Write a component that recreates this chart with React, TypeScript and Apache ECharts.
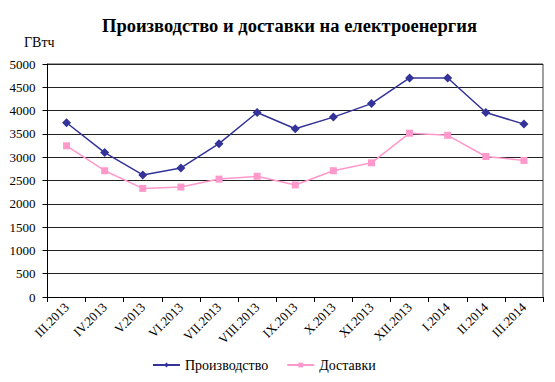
import React, { useEffect, useRef } from "react";
import * as echarts from "echarts";

const categories = [
  "III.2013", "IV.2013", "V.2013", "VI.2013", "VII.2013", "VIII.2013", "IX.2013",
  "X.2013", "XI.2013", "XII.2013", "I.2014", "II.2014", "III.2014",
];
const production = [3740, 3100, 2620, 2770, 3290, 3960, 3610, 3860, 4150, 4700, 4700, 3960, 3710];
const deliveries = [3245, 2710, 2330, 2360, 2530, 2590, 2405, 2710, 2880, 3515, 3470, 3015, 2930];
const yTicks = { min: 0, max: 5000, interval: 500 };

const SERIF = "'Liberation Serif', 'Times New Roman', serif";

export default function App() {
  const ref = useRef<HTMLDivElement>(null);
  useEffect(() => {
    if (!ref.current) return;
    const chart = echarts.init(ref.current, undefined, { renderer: "svg" });
    chart.setOption({
      animation: false,
      backgroundColor: "#ffffff",
      title: {
        text: "Производство и доставки на електроенергия",
        left: 97,
        top: 11,
        textStyle: { fontFamily: SERIF, fontWeight: "bold", fontSize: 18.5, color: "#000" },
      },
      graphic: [
        {
          type: "text",
          left: 24,
          top: 35,
          style: { text: "ГВтч", fontFamily: SERIF, fontSize: 14, fill: "#000" },
        },
        {
          type: "line",
          shape: { x1: 47.5, y1: 64, x2: 543, y2: 64 },
          style: { stroke: "#808080", lineWidth: 1.5 },
        },
        {
          type: "line",
          shape: { x1: 543, y1: 64, x2: 543, y2: 297 },
          style: { stroke: "#808080", lineWidth: 1.5 },
        },
      ],
      legend: {
        left: 147,
        top: 353,
        itemWidth: 27,
        itemHeight: 6,
        itemGap: 18,
        textStyle: { fontFamily: SERIF, fontSize: 14, color: "#000" },
        data: ["Производство", "Доставки"],
      },
      grid: { left: 47.5, right: 12, top: 64, bottom: 85, containLabel: false },
      xAxis: {
        type: "category",
        data: categories,
        boundaryGap: true,
        axisLine: { lineStyle: { color: "#000", width: 1 } },
        axisTick: { show: true, length: 5, interval: 0, lineStyle: { color: "#000" } },
        axisLabel: {
          interval: 0,
          rotate: 45,
          fontFamily: SERIF,
          fontSize: 13,
          color: "#000",
          margin: 8,
        },
      },
      yAxis: {
        type: "value",
        min: yTicks.min,
        max: yTicks.max,
        interval: yTicks.interval,
        axisLine: { show: true, lineStyle: { color: "#000", width: 1 } },
        axisTick: { show: true, length: 5, lineStyle: { color: "#000" } },
        axisLabel: {
          fontFamily: SERIF,
          fontSize: 13,
          color: "#000",
          margin: 12,
          formatter: (v: number) => String(v),
        },
        splitLine: { show: true, lineStyle: { color: "#222", width: 1 } },
      },
      series: [
        {
          name: "Производство",
          type: "line",
          data: production,
          symbol: "diamond",
          symbolSize: 9,
          itemStyle: { color: "#333399" },
          lineStyle: { color: "#333399", width: 1.5 },
        },
        {
          name: "Доставки",
          type: "line",
          data: deliveries,
          symbol: "rect",
          symbolSize: 7,
          itemStyle: { color: "#FF99CC" },
          lineStyle: { color: "#FF99CC", width: 1.5 },
        },
      ],
    });
    return () => chart.dispose();
  }, []);
  return <div ref={ref} style={{ width: 555, height: 382, position: "absolute", left: 0, top: 0 }} />;
}
